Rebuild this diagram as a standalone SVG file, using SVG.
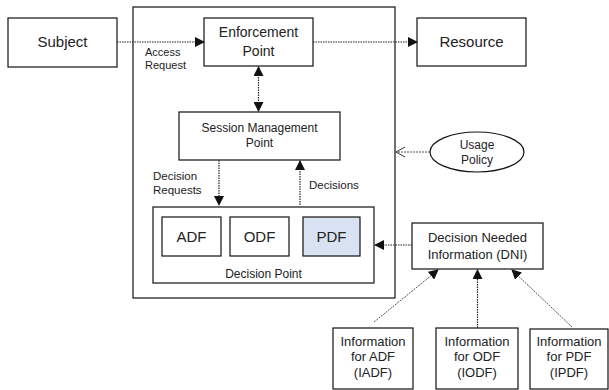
<svg xmlns="http://www.w3.org/2000/svg" width="609" height="390" viewBox="0 0 609 390">
<style>
.box{fill:#fff;stroke:#111;stroke-width:1.2}
.t{font-family:"Liberation Sans",Arial,sans-serif;fill:#222;text-anchor:middle}
.l{font-family:"Liberation Sans",Arial,sans-serif;fill:#222}
.c{fill:none;stroke:#222;stroke-width:1.2;stroke-dasharray:1.5 1}
.g{fill:none;stroke:#555;stroke-width:1;stroke-dasharray:2 1}
</style>
<defs>
<marker id="ah" markerWidth="10" markerHeight="10" refX="9" refY="5" orient="auto" markerUnits="userSpaceOnUse">
<path d="M0,0 L10,5 L0,10 z" fill="#111"/>
</marker>
<marker id="ahs" markerWidth="10" markerHeight="10" refX="1" refY="5" orient="auto" markerUnits="userSpaceOnUse">
<path d="M10,0 L0,5 L10,10 z" fill="#111"/>
</marker>
<marker id="open" markerWidth="12" markerHeight="12" refX="11" refY="6" orient="auto" markerUnits="userSpaceOnUse">
<path d="M2,1 L11,6 L2,11" fill="none" stroke="#333" stroke-width="1"/>
</marker>
</defs>
<g id="container"><rect class="box" x="133" y="7" width="262" height="291"/></g>
<g id="subject"><rect class="box" x="8" y="18" width="109" height="49"/><text class="t" x="62.5" y="47" font-size="15">Subject</text></g>
<g id="enforcement"><rect class="box" x="204" y="18" width="109" height="48"/><text class="t" x="258.5" y="37" font-size="14">Enforcement</text><text class="t" x="258.5" y="56" font-size="14">Point</text></g>
<g id="resource"><rect class="box" x="417" y="18" width="109" height="48"/><text class="t" x="471.5" y="47" font-size="15">Resource</text></g>
<g id="smp"><rect class="box" x="179" y="112" width="161" height="48"/><text class="t" x="259.5" y="132" font-size="12">Session Management</text><text class="t" x="259.5" y="147" font-size="12">Point</text></g>
<g id="decisionpoint"><rect class="box" x="153" y="207" width="221" height="76"/><text class="t" x="263.5" y="278" font-size="12">Decision Point</text></g>
<g id="adf"><rect class="box" x="162" y="217" width="59" height="39"/><text class="t" x="191.5" y="242" font-size="15">ADF</text></g>
<g id="odf"><rect class="box" x="230" y="217" width="59" height="39"/><text class="t" x="259.5" y="242" font-size="15">ODF</text></g>
<g id="pdf"><rect class="box" x="303" y="217" width="57" height="39" style="fill:#d8e2f3"/><text class="t" x="331.5" y="242" font-size="15">PDF</text></g>
<g id="usage"><ellipse class="box" cx="477" cy="152" rx="47" ry="20"/><text class="t" x="477" y="149" font-size="12">Usage</text><text class="t" x="477" y="164" font-size="12">Policy</text></g>
<g id="dni"><rect class="box" x="412" y="223" width="131" height="46"/><text class="t" x="477.5" y="242" font-size="13">Decision Needed</text><text class="t" x="477.5" y="259" font-size="13">Information (DNI)</text></g>
<g id="iadf"><rect class="box" x="333" y="328" width="80" height="61"/><text class="t" x="373" y="346" font-size="13">Information</text><text class="t" x="373" y="361" font-size="13">for ADF</text><text class="t" x="373" y="377" font-size="13">(IADF)</text></g>
<g id="iodf"><rect class="box" x="436" y="328" width="82" height="61"/><text class="t" x="477" y="346" font-size="13">Information</text><text class="t" x="477" y="361" font-size="13">for ODF</text><text class="t" x="477" y="377" font-size="13">(IODF)</text></g>
<g id="ipdf"><rect class="box" x="530" y="329" width="78" height="60"/><text class="t" x="569" y="346" font-size="13">Information</text><text class="t" x="569" y="361" font-size="13">for PDF</text><text class="t" x="569" y="377" font-size="13">(IPDF)</text></g>
<g id="connectors">
<line class="c" x1="117" y1="42" x2="204" y2="42" marker-end="url(#ah)"/>
<line class="c" x1="313" y1="42" x2="417" y2="42" marker-end="url(#ah)"/>
<line class="c" x1="258.5" y1="67" x2="258.5" y2="111" marker-start="url(#ahs)" marker-end="url(#ah)"/>
<line class="c" x1="219" y1="160" x2="219" y2="205" marker-end="url(#ah)"/>
<line class="c" x1="300" y1="205" x2="300" y2="161" marker-end="url(#ah)"/>
<line class="c" x1="412" y1="245" x2="375" y2="245" marker-end="url(#ah)"/>
<line class="g" x1="430" y1="152" x2="396" y2="152" marker-end="url(#open)"/>
<line class="g" x1="374" y1="322" x2="438" y2="270" marker-end="url(#ah)"/>
<line class="c" x1="477.5" y1="328" x2="477.5" y2="270" marker-end="url(#ah)"/>
<line class="g" x1="572" y1="327" x2="512" y2="270" marker-end="url(#ah)"/>
<text class="l" x="145" y="56" font-size="11">Access</text>
<text class="l" x="145" y="69" font-size="11">Request</text>
<text class="l" x="153" y="180" font-size="11.5">Decision</text>
<text class="l" x="153" y="194" font-size="11.5">Requests</text>
<text class="l" x="309" y="189" font-size="11.5">Decisions</text>
</g>
</svg>
